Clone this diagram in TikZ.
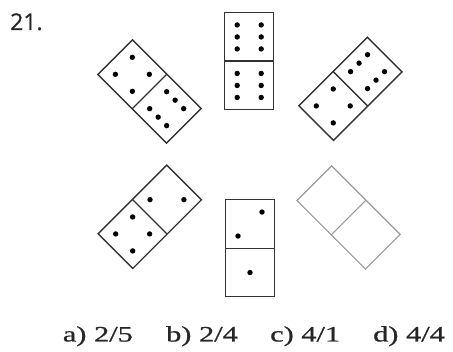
\documentclass[tikz,border=0pt]{standalone}
\usepackage{fontspec}
\setmainfont{Liberation Serif}
\newfontfamily\ansfont[FakeBold=0.7]{Liberation Serif}
\newfontfamily\numfont[FakeBold=0.8]{Open Sans}
\newcommand{\domframe}[1]{\draw[#1] (-24.5,-48.5) rectangle (24.5,48.5); \draw[#1] (-24.5,0) -- (24.5,0);}
\newcommand{\pipsone}[1]{\fill[pip] (0,#1) circle (2.7pt);}
\newcommand{\pipstwo}[1]{\fill[pip] (12,#1-12) circle (2.7pt) (-12,#1+12) circle (2.7pt);}
\newcommand{\pipsfour}[1]{\fill[pip] (12,#1-12) circle (2.7pt) (-12,#1+12) circle (2.7pt) (-12,#1-12) circle (2.7pt) (12,#1+12) circle (2.7pt);}
\newcommand{\pipssix}[1]{\fill[pip] (12,#1-12) circle (2.7pt) (-12,#1+12) circle (2.7pt) (-12,#1-12) circle (2.7pt) (12,#1+12) circle (2.7pt) (-12,#1) circle (2.7pt) (12,#1) circle (2.7pt);}
\tikzset{
  dom/.style={line width=1.4pt, draw=black!80},
  blank/.style={line width=1.1pt, draw=black!40},
  pip/.style={fill=black},
  answer/.style={anchor=base west, inner sep=0pt, font=\ansfont\fontsize{22}{22}\selectfont, text=black!85},
}
\begin{document}
\begin{tikzpicture}[x=1pt,y=-1pt]
\useasboundingbox (0,0) rectangle (453,352);
% top-left
\begin{scope}[shift={(149.5,91.5)},rotate=45]
  \domframe{dom}
  \pipsfour{-24.25}
  \pipssix{24.25}
\end{scope}
% top-center
\begin{scope}[shift={(249.2,61.2)}]
  \domframe{dom}
  \pipssix{-24.25}
  \pipssix{24.25}
\end{scope}
% top-right
\begin{scope}[shift={(350.4,88.8)},rotate=-45]
  \domframe{dom}
  \pipssix{-24.25}
  \pipsfour{24.25}
\end{scope}
% bottom-left
\begin{scope}[shift={(149.8,216.8)},rotate=-45]
  \domframe{dom}
  \pipstwo{-24.25}
  \pipsfour{24.25}
\end{scope}
% bottom-center
\begin{scope}[shift={(250,248.3)}]
  \domframe{dom}
  \pipstwo{-24.25}
  \pipsone{24.25}
\end{scope}
% bottom-right (empty)
\begin{scope}[shift={(348.6,217.5)},rotate=45]
  \domframe{blank}
\end{scope}
\node[anchor=base west, inner sep=0pt, font=\numfont\fontsize{23}{23}\selectfont, text=black!85] (num) at (10,30) {21.};
\node[answer] (ansa) at (62.7,341.5) {\scalebox{1.38}[1]{a) 2/5}};
\node[answer] (ansb) at (166,341.5) {\scalebox{1.38}[1]{b) 2/4}};
\node[answer] (ansc) at (270,341.5) {\scalebox{1.38}[1]{c) 4/1}};
\node[answer] (ansd) at (373,341.5) {\scalebox{1.38}[1]{d) 4/4}};
\end{tikzpicture}
\end{document}
